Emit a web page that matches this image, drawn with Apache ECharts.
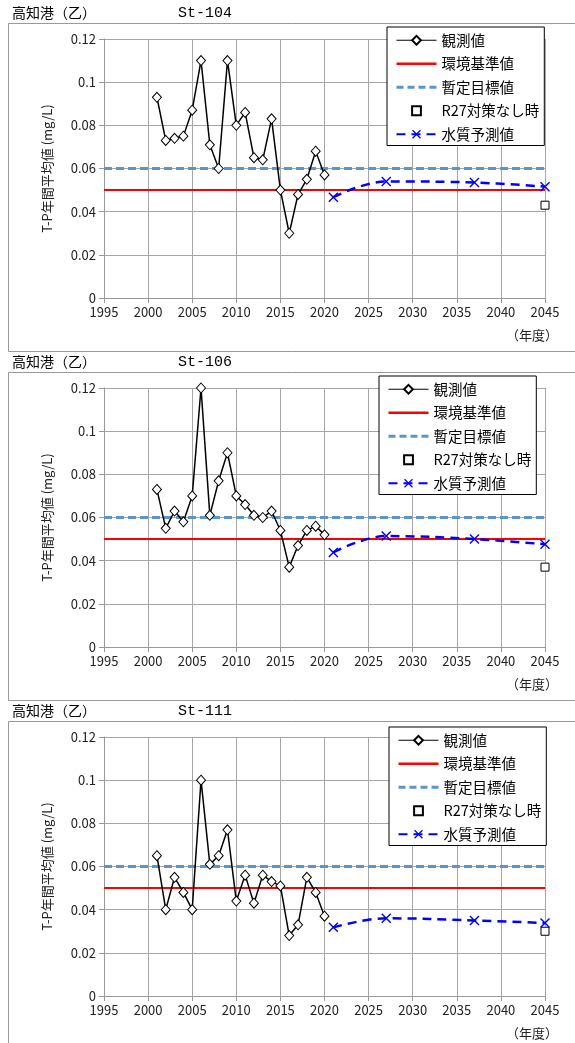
<!DOCTYPE html>
<html>
<head>
<meta charset="utf-8">
<script src="https://cdn.jsdelivr.net/npm/echarts@6/dist/echarts.min.js"></script>
<style>
  html, body { margin: 0; background: #fff; }
  #chart { width: 575px; height: 1043px; }
</style>
</head>
<body>
<div id="chart"></div>
<script>
// observed annual means, FY2001-2020
const obsYears = [2001, 2002, 2003, 2004, 2005, 2006, 2007, 2008, 2009, 2010,
                  2011, 2012, 2013, 2014, 2015, 2016, 2017, 2018, 2019, 2020];
const obs104 = [0.093, 0.073, 0.074, 0.075, 0.087, 0.110, 0.071, 0.060, 0.110, 0.080,
                0.086, 0.065, 0.064, 0.083, 0.050, 0.030, 0.048, 0.055, 0.068, 0.057];
const obs106 = [0.073, 0.055, 0.063, 0.058, 0.070, 0.120, 0.061, 0.077, 0.090, 0.070,
                0.066, 0.061, 0.060, 0.063, 0.054, 0.037, 0.047, 0.054, 0.056, 0.052];
const obs111 = [0.065, 0.040, 0.055, 0.048, 0.040, 0.100, 0.061, 0.065, 0.077, 0.044,
                0.056, 0.043, 0.056, 0.053, 0.051, 0.028, 0.033, 0.055, 0.048, 0.037];

// water quality forecast
const predYears = [2021, 2027, 2037, 2045];
const pred104 = [0.0467, 0.0540, 0.0535, 0.0516];
const pred106 = [0.0438, 0.0514, 0.0500, 0.0476];
const pred111 = [0.0318, 0.0360, 0.0350, 0.0338];

// R27 "no measures" case
const noActionYear = 2045;
const noAction104 = 0.043;
const noAction106 = 0.037;
const noAction111 = 0.030;

const envStandard = 0.05;   // 環境基準値
const interimTarget = 0.06; // 暫定目標値
const xRange = [1995, 2045];

const stations = ["St-104", "St-106", "St-111"];
const seriesNames = ["観測値", "環境基準値", "暫定目標値", "R27対策なし時", "水質予測値"];

const FONT = '"Noto Sans CJK JP", "Noto Sans", sans-serif';
const CROSS = "path://M0,1L1,0L5,4L9,0L10,1L6,5L10,9L9,10L5,6L1,10L0,9L4,5Z";

const panels = [
  { station: stations[0], obs: obs104, pred: pred104, na: noAction104, off: 0,   legendLeft: 387, legendTop: 27 },
  { station: stations[1], obs: obs106, pred: pred106, na: noAction106, off: 349, legendLeft: 379, legendTop: 376 },
  { station: stations[2], obs: obs111, pred: pred111, na: noAction111, off: 698, legendLeft: 389, legendTop: 727 },
];

const pair = (xs, ys) => xs.map((x, i) => [x, ys[i]]);

const grid = [], xAxis = [], yAxis = [], series = [], legend = [], graphic = [];

panels.forEach((p, i) => {
  const top = 39 + p.off;
  grid.push({ left: 104, top: top, width: 441, height: 259 });

  xAxis.push({
    gridIndex: i, type: "value", min: xRange[0], max: xRange[1], interval: 5,
    axisLine: { lineStyle: { color: "#999" } },
    axisTick: { show: true, length: 5, lineStyle: { color: "#999" } },
    axisLabel: { color: "#222", fontSize: 13, fontFamily: FONT, margin: 8, formatter: (v) => String(v) },
    splitLine: { show: true, lineStyle: { color: "#a6a6a6", width: 1 } },
  });
  yAxis.push({
    gridIndex: i, type: "value", min: 0, max: 0.12, interval: 0.02,
    name: "T-P年間平均値 (mg/L)", nameLocation: "middle", nameRotate: 90, nameGap: 50,
    nameTextStyle: { color: "#222", fontSize: 13, fontFamily: FONT },
    axisLine: { show: true, lineStyle: { color: "#999" } },
    axisTick: { show: true, length: 5, lineStyle: { color: "#999" } },
    axisLabel: { color: "#222", fontSize: 13, fontFamily: FONT, margin: 8 },
    splitLine: { show: true, lineStyle: { color: "#a6a6a6", width: 1 } },
  });

  series.push(
    {
      name: seriesNames[1], type: "line", xAxisIndex: i, yAxisIndex: i, z: 2,
      data: pair(xRange, [envStandard, envStandard]), symbol: "none",
      itemStyle: { color: "#ff0000" },
      lineStyle: { color: "#ff0000", width: 2 },
    },
    {
      name: seriesNames[2], type: "line", xAxisIndex: i, yAxisIndex: i, z: 2,
      data: pair(xRange, [interimTarget, interimTarget]), symbol: "none",
      itemStyle: { color: "#5b95cc" },
      lineStyle: { color: "#5b95cc", width: 3, type: [8, 4] },
    },
    {
      name: seriesNames[4], type: "line", xAxisIndex: i, yAxisIndex: i, z: 3,
      data: pair(predYears, p.pred), smooth: 0.4,
      symbol: CROSS, symbolSize: 10,
      itemStyle: { color: "#0000ff" },
      lineStyle: { color: "#0000ff", width: 2.5, type: [9, 6] },
    },
    {
      name: seriesNames[0], type: "line", xAxisIndex: i, yAxisIndex: i, z: 4,
      data: pair(obsYears, p.obs),
      symbol: "diamond", symbolSize: [9, 10],
      itemStyle: { color: "#fff", borderColor: "#000", borderWidth: 1 },
      lineStyle: { color: "#000", width: 1.5 },
    },
    {
      // single point; drawn as a line series so the legend shows only the small square
      name: seriesNames[3], type: "line", xAxisIndex: i, yAxisIndex: i, z: 4,
      data: [[noActionYear, p.na]], symbol: "rect", symbolSize: 8, clip: false,
      itemStyle: { color: "#fff", borderColor: "#000", borderWidth: 1 },
      lineStyle: { width: 0, opacity: 0 },
    }
  );

  legend.push({
    left: p.legendLeft, top: p.legendTop,
    orient: "vertical", selectedMode: false,
    itemWidth: 40, itemHeight: 11, itemGap: 9,
    padding: [6, 5, 4, 8],
    borderColor: "#000", borderWidth: 1, backgroundColor: "#fff",
    textStyle: { color: "#000", fontSize: 14.5, fontFamily: FONT },
    data: [
      { name: seriesNames[0], lineStyle: { width: 1 } },
      { name: seriesNames[1], itemStyle: { opacity: 0 }, lineStyle: { width: 2.5 } },
      { name: seriesNames[2], itemStyle: { opacity: 0 }, lineStyle: { width: 3, type: [7, 4] } },
      { name: seriesNames[3] },
      { name: seriesNames[4] },
    ],
  });

  // frame, station title, year unit
  graphic.push(
    { type: "rect", z: -1, shape: { x: 8.5, y: 23.5 + p.off, width: 600, height: i === 2 ? 400 : 328 },
      style: { fill: "none", stroke: "#999", lineWidth: 1 } },
    { type: "text", left: 12, top: 6 + p.off,
      style: { text: "高知港（乙）", fill: "#000", font: "14px " + FONT } },
    { type: "text", left: 178, top: 6 + p.off,
      style: { text: p.station, fill: "#000", font: "15px 'Liberation Mono', monospace" } },
    { type: "text", left: 506, top: 329 + p.off,
      style: { text: "（年度）", fill: "#222", font: "13px " + FONT } }
  );
});

const chart = echarts.init(document.getElementById("chart"));
chart.setOption({
  animation: false,
  backgroundColor: "#fff",
  grid, xAxis, yAxis, series, legend, graphic,
});
</script>
</body>
</html>
